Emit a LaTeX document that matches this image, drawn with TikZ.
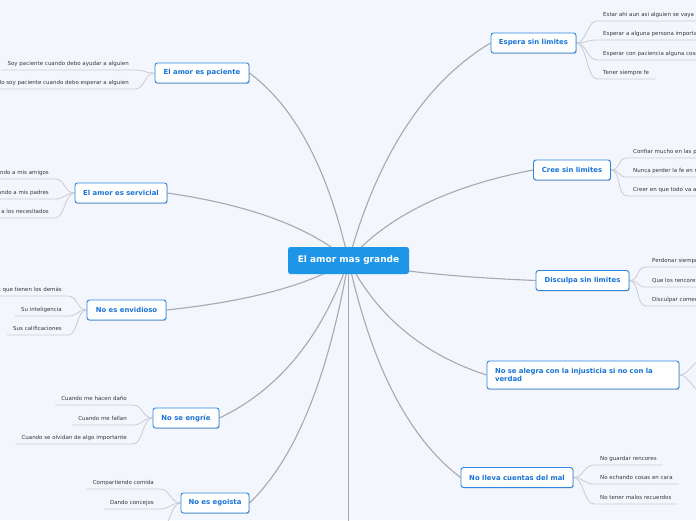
\documentclass[tikz,border=0pt]{standalone}
\usepackage{fontspec}
\setmainfont{DejaVu Sans}
\usetikzlibrary{calc,shadows}
\definecolor{bgc}{RGB}{243,246,253}
\definecolor{mainln}{RGB}{168,168,176}
\definecolor{leafln}{RGB}{202,204,212}
\definecolor{cfill}{RGB}{30,150,232}
\definecolor{tborder}{RGB}{45,134,224}
\definecolor{ttext}{RGB}{25,115,215}
\definecolor{ltext}{RGB}{55,55,60}
\pgfdeclarelayer{bglayer}
\pgfdeclarelayer{lines}
\pgfsetlayers{bglayer,lines,main}
\tikzset{
  centerbox/.style={fill=cfill, rounded corners=2.5pt, text=white,
    font=\bfseries\fontsize{9}{10}\selectfont, minimum width=121pt,
    minimum height=27pt, inner sep=0pt},
  topicbox/.style={draw=tborder, line width=0.9pt, fill=white, rounded corners=2.5pt,
    text=ttext, font=\bfseries\fontsize{6.9}{8.6}\selectfont, inner xsep=7pt,
    inner ysep=0pt, minimum height=20pt,
    drop shadow={shadow xshift=0.7pt, shadow yshift=-0.9pt, fill=black, opacity=0.22}},
  leafl/.style={anchor=south east, text=ltext, font=\fontsize{5.5}{6.5}\selectfont,
    inner xsep=6pt, inner ysep=2.5pt, text height=4pt, text depth=1.5pt},
  leafr/.style={leafl, anchor=south west},
  mainline/.style={draw=mainln, line width=1.1pt},
  leafline/.style={draw=leafln, line width=0.8pt},
}
\newcommand{\mmlink}[2]{\draw[mainline] let \p1=(#1), \p2=(#2) in (\p1) .. controls ({\x1+0.207*(\x2-\x1)},{\y1+0.487*(\y2-\y1)}) and ({\x2-0.46*(\x2-\x1)},{\y2-0.18*(\y2-\y1)}) .. (\p2);}
\newcommand{\mmleafL}[2]{\draw[leafline] (#1.west) .. controls +(-10,0) and +(10,0) .. (#2.south east) -- (#2.south west);}
\newcommand{\mmleafR}[2]{\draw[leafline] (#1.east) .. controls +(10,0) and +(-10,0) .. (#2.south west) -- (#2.south east);}
\begin{document}
\begin{tikzpicture}[x=1pt,y=-1pt]
\begin{pgfonlayer}{bglayer}
  \path[use as bounding box, fill=bgc] (0,0) rectangle (696,520);
\end{pgfonlayer}
\clip (0,0) rectangle (696,520);

% centre
\node[centerbox] (c) at (348.5,260.5) {El amor mas grande};

% topics
\node[topicbox, minimum width=94pt] (t1) at (202,73) {El amor es paciente};
\node[topicbox, minimum width=92pt] (t2) at (121,193) {El amor es servicial};
\node[topicbox, minimum width=79pt] (t3) at (126.5,310) {No es envidioso};
\node[topicbox, minimum width=66pt] (t4) at (186,418) {No se engríe};
\node[topicbox, minimum width=68pt] (t5) at (215,503) {No es egoista};
\node[topicbox, minimum width=85pt] (t6) at (533.5,43) {Espera sin limites};
\node[topicbox, minimum width=77pt] (t7) at (572,170) {Cree sin limites};
\node[topicbox, minimum width=93pt] (t8) at (582.5,280.5) {Disculpa sin limites};
\node[topicbox, minimum height=28pt, text width=176pt, inner xsep=8pt, align=left] (t9) at (583,375) {No se alegra con la injusticia si no con la\\verdad};
\node[topicbox, minimum width=112pt] (t10) at (517,477.5) {No lleva cuentas del mal};

% leaves left
\node[leafl] (l11) at (135,70) {Soy paciente cuando debo ayudar a alguien};
\node[leafl] (l12) at (135,89) {No soy paciente cuando debo esperar a alguien};
\node[leafl] (l21) at (55,179) {Ayudando a mis amigos};
\node[leafl] (l22) at (55,199) {Ayudando a mis padres};
\node[leafl] (l23) at (55,218) {Ayudando a los necesitados};
\node[leafl] (l31) at (68,296) {Las cosas que tienen los demás};
\node[leafl] (l32) at (68,316) {Su inteligencia};
\node[leafl] (l33) at (68,335) {Sus calificaciones};
\node[leafl] (l41) at (133,405) {Cuando me hacen daño};
\node[leafl] (l42) at (133,425) {Cuando me fallan};
\node[leafl] (l43) at (133,444) {Cuando se olvidan de algo importante};
\node[leafl] (l51) at (160,489) {Compartiendo comida};
\node[leafl] (l52) at (160,509) {Dando concejos};
\coordinate (l53) at (160,529);

% leaves right
\node[leafr] (l61) at (597,21) {Estar ahi aun asi alguien se vaya};
\node[leafr] (l62) at (597,40) {Esperar a alguna persona importante};
\node[leafr] (l63) at (597,60) {Esperar con paciencia alguna cosa};
\node[leafr] (l64) at (597,79) {Tener siempre fe};
\node[leafr] (l71) at (627,158) {Confiar mucho en las personas};
\node[leafr] (l72) at (627,177) {Nunca perder la fe en nadie};
\node[leafr] (l73) at (627,196) {Creer en que todo va a salir bien};
\node[leafr] (l81) at (646,267) {Perdonar siempre};
\node[leafr] (l82) at (646,287) {Que los rencores no existan};
\node[leafr] (l83) at (646,306) {Disculpar comentarios};
\node[leafr] (l101) at (594,465) {No guardar rencores};
\node[leafr] (l102) at (594,484) {No echando cosas en cara};
\node[leafr] (l103) at (594,504) {No tener malos recuerdos};
\coordinate (l91) at (704,359);
\coordinate (l92) at (704,393);
\coordinate (down) at (348.5,530);

\begin{pgfonlayer}{lines}
  \clip (0,0) rectangle (696,520);
  \mmlink{c.center}{t1.east}
  \mmlink{c.center}{t2.east}
  \mmlink{c.center}{t3.east}
  \mmlink{c.center}{t4.east}
  \mmlink{c.center}{t5.east}
  \mmlink{c.center}{t6.west}
  \mmlink{c.center}{t7.west}
  \mmlink{c.center}{t8.west}
  \mmlink{c.center}{t9.west}
  \mmlink{c.center}{t10.west}
  \draw[mainline] (c.center) -- (down);
  \mmleafL{t1}{l11}\mmleafL{t1}{l12}
  \mmleafL{t2}{l21}\mmleafL{t2}{l22}\mmleafL{t2}{l23}
  \mmleafL{t3}{l31}\mmleafL{t3}{l32}\mmleafL{t3}{l33}
  \mmleafL{t4}{l41}\mmleafL{t4}{l42}\mmleafL{t4}{l43}
  \mmleafL{t5}{l51}\mmleafL{t5}{l52}
  \draw[leafline] (t5.west) .. controls +(-10,0) and +(10,0) .. (l53);
  \mmleafR{t6}{l61}\mmleafR{t6}{l62}\mmleafR{t6}{l63}\mmleafR{t6}{l64}
  \mmleafR{t7}{l71}\mmleafR{t7}{l72}\mmleafR{t7}{l73}
  \mmleafR{t8}{l81}\mmleafR{t8}{l82}\mmleafR{t8}{l83}
  \mmleafR{t10}{l101}\mmleafR{t10}{l102}\mmleafR{t10}{l103}
  \draw[leafline] (t9.east) .. controls +(10,0) and +(-10,0) .. (l91);
  \draw[leafline] (t9.east) .. controls +(10,0) and +(-10,0) .. (l92);
\end{pgfonlayer}
\end{tikzpicture}
\end{document}
